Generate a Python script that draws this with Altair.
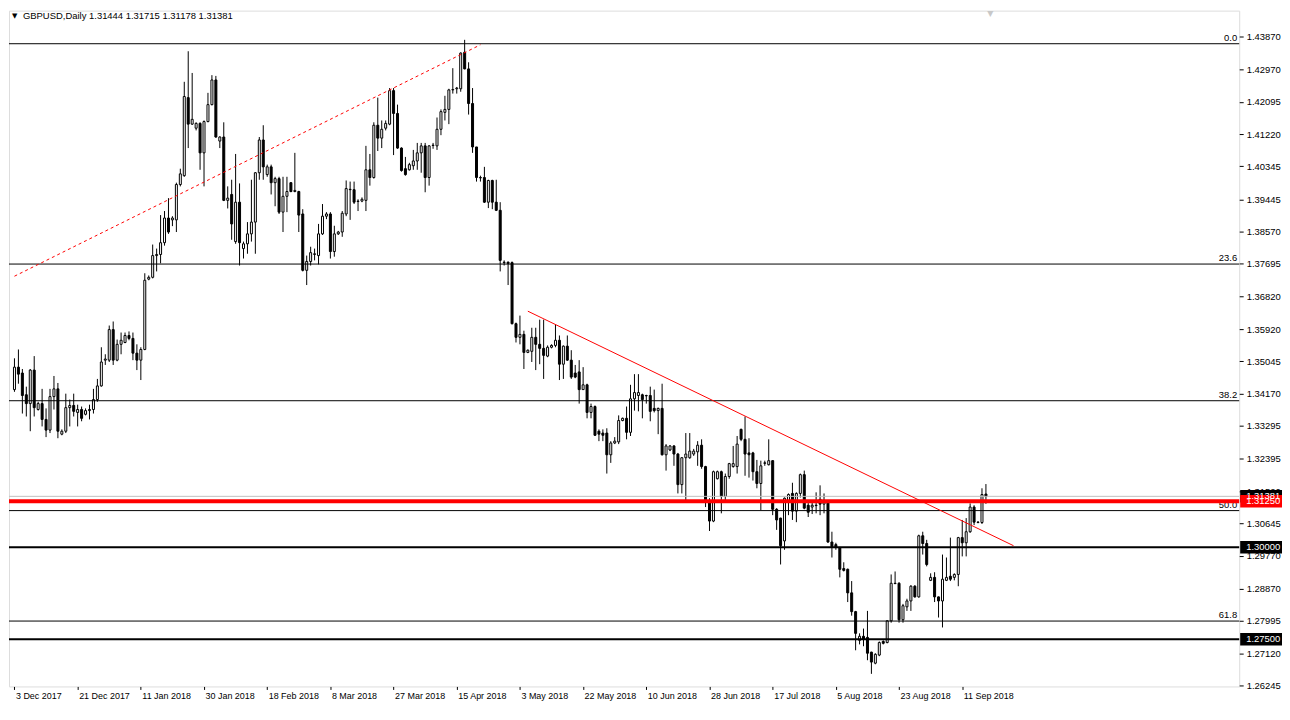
import json
import altair as alt
import pandas as pd

# ---------------- data ----------------
symbol_title = "GBPUSD,Daily"
last_ohlc_text = "1.31444 1.31715 1.31178 1.31381"

date_labels = ["3 Dec 2017", "21 Dec 2017", "11 Jan 2018", "30 Jan 2018", "18 Feb 2018",
               "8 Mar 2018", "27 Mar 2018", "15 Apr 2018", "3 May 2018", "22 May 2018",
               "10 Jun 2018", "28 Jun 2018", "17 Jul 2018", "5 Aug 2018", "23 Aug 2018",
               "11 Sep 2018"]
label_bars = [0, 16, 32, 48, 64, 80, 96, 112, 128, 144, 160, 176, 192, 208, 224, 240]

price_ticks = [1.43870, 1.42970, 1.42095, 1.41220, 1.40345, 1.39445, 1.38570, 1.37695,
               1.36820, 1.35920, 1.35045, 1.34170, 1.33295, 1.32395, 1.31520, 1.30645,
               1.29770, 1.28870, 1.27995, 1.27120, 1.26245]

opens = [
    1.3428, 1.3489, 1.3473, 1.3414, 1.3390, 1.3481, 1.3374, 1.3390, 1.3347, 1.3318,
    1.3409, 1.3430, 1.3307, 1.3315, 1.3379, 1.3385, 1.3366, 1.3374, 1.3361, 1.3371,
    1.3374, 1.3401, 1.3438, 1.3508, 1.3508, 1.3591, 1.3508, 1.3551, 1.3556, 1.3575,
    1.3567, 1.3527, 1.3508, 1.3537, 1.3728, 1.3733, 1.3792, 1.3795, 1.3827, 1.3894,
    1.3889, 1.3889, 1.3985, 1.4009, 1.4221, 1.4149, 1.4138, 1.4151, 1.4071, 1.4156,
    1.4202, 1.4269, 1.4103, 1.4114, 1.3942, 1.3958, 1.3830, 1.3937, 1.3811, 1.3824,
    1.3851, 1.3883, 1.4017, 1.4106, 1.4012, 1.4033, 1.3990, 1.4001, 1.3910, 1.3953,
    1.3990, 1.3966, 1.3966, 1.3905, 1.3752, 1.3776, 1.3795, 1.3792, 1.3851, 1.3899,
    1.3905, 1.3803, 1.3851, 1.3856, 1.3905, 1.3972, 1.3971, 1.3940, 1.3940, 1.3942,
    1.4025, 1.4004, 1.4146, 1.4111, 1.4138, 1.4149, 1.4240, 1.4178, 1.4084, 1.4028,
    1.4025, 1.4036, 1.4049, 1.4071, 1.4090, 1.4004, 1.4092, 1.4090, 1.4135, 1.4181,
    1.4189, 1.4242, 1.4245, 1.4245, 1.4344, 1.4299, 1.4205, 1.4087, 1.4004, 1.4004,
    1.3937, 1.3996, 1.3937, 1.3915, 1.3773, 1.3774, 1.3773, 1.3607, 1.3570, 1.3578,
    1.3529, 1.3532, 1.3570, 1.3551, 1.3540, 1.3519, 1.3543, 1.3548, 1.3562, 1.3497,
    1.3546, 1.3508, 1.3473, 1.3476, 1.3428, 1.3441, 1.3366, 1.3382, 1.3315, 1.3310,
    1.3310, 1.3251, 1.3283, 1.3286, 1.3344, 1.3350, 1.3312, 1.3403, 1.3412, 1.3414,
    1.3412, 1.3412, 1.3377, 1.3371, 1.3377, 1.3251, 1.3264, 1.3275, 1.3253, 1.3170,
    1.3243, 1.3243, 1.3253, 1.3259, 1.3277, 1.3219, 1.3122, 1.3071, 1.3186, 1.3205,
    1.3138, 1.3192, 1.3219, 1.3219, 1.3320, 1.3293, 1.3256, 1.3256, 1.3205, 1.3173,
    1.3229, 1.3224, 1.3235, 1.3103, 1.3079, 1.3017, 1.3127, 1.3146, 1.3098, 1.3146,
    1.3197, 1.3114, 1.3109, 1.3114, 1.3130, 1.3117, 1.3125, 1.3014, 1.3007, 1.2999,
    1.2942, 1.2940, 1.2876, 1.2825, 1.2747, 1.2758, 1.2755, 1.2715, 1.2685, 1.2707,
    1.2744, 1.2741, 1.2800, 1.2902, 1.2902, 1.2803, 1.2838, 1.2854, 1.2894, 1.2865,
    1.3031, 1.3010, 1.2910, 1.2918, 1.2865, 1.2854, 1.2910, 1.2921, 1.2918, 1.2926,
    1.3026, 1.3012, 1.3042, 1.3109, 1.3068, 1.3067, 1.31444,
]
highs = [
    1.3513, 1.3537, 1.3484, 1.3436, 1.3484, 1.3519, 1.3395, 1.3430, 1.3377, 1.3430,
    1.3465, 1.3446, 1.3320, 1.3417, 1.3401, 1.3417, 1.3387, 1.3382, 1.3377, 1.3387,
    1.3430, 1.3457, 1.3543, 1.3524, 1.3602, 1.3613, 1.3564, 1.3583, 1.3583, 1.3586,
    1.3583, 1.3551, 1.3543, 1.3744, 1.3738, 1.3822, 1.3811, 1.3902, 1.3913, 1.3948,
    1.3899, 1.3990, 1.4028, 1.4264, 1.4347, 1.4288, 1.4154, 1.4154, 1.4159, 1.4234,
    1.4282, 1.4280, 1.4116, 1.4154, 1.3980, 1.3998, 1.4068, 1.3988, 1.3830, 1.3883,
    1.3998, 1.4019, 1.4114, 1.4146, 1.4039, 1.4039, 1.4006, 1.4006, 1.4006, 1.4006,
    1.3991, 1.4071, 1.3968, 1.3918, 1.3792, 1.3816, 1.3811, 1.3878, 1.3932, 1.3910,
    1.3910, 1.3873, 1.3859, 1.3913, 1.3996, 1.3993, 1.3993, 1.3945, 1.3950, 1.4090,
    1.4068, 1.4154, 1.4221, 1.4159, 1.4159, 1.4247, 1.4247, 1.4202, 1.4086, 1.4060,
    1.4044, 1.4079, 1.4098, 1.4098, 1.4098, 1.4092, 1.4098, 1.4167, 1.4189, 1.4226,
    1.4245, 1.4301, 1.4250, 1.4344, 1.4378, 1.4317, 1.4247, 1.4087, 1.4009, 1.4033,
    1.3998, 1.3998, 1.3998, 1.3937, 1.3779, 1.3776, 1.3776, 1.3610, 1.3629, 1.3588,
    1.3537, 1.3596, 1.3596, 1.3618, 1.3618, 1.3548, 1.3551, 1.3605, 1.3575, 1.3548,
    1.3575, 1.3535, 1.3495, 1.3508, 1.3489, 1.3444, 1.3390, 1.3385, 1.3320, 1.3320,
    1.3323, 1.3288, 1.3299, 1.3358, 1.3352, 1.3382, 1.3441, 1.3470, 1.3470, 1.3417,
    1.3414, 1.3436, 1.3428, 1.3379, 1.3444, 1.3280, 1.3277, 1.3277, 1.3256, 1.3245,
    1.3310, 1.3310, 1.3267, 1.3288, 1.3293, 1.3221, 1.3133, 1.3208, 1.3208, 1.3208,
    1.3200, 1.3229, 1.3275, 1.3302, 1.3322, 1.3355, 1.3296, 1.3259, 1.3237, 1.3235,
    1.3235, 1.3293, 1.3236, 1.3106, 1.3080, 1.3135, 1.3146, 1.3175, 1.3149, 1.3200,
    1.3208, 1.3127, 1.3127, 1.3149, 1.3168, 1.3146, 1.3127, 1.3042, 1.3012, 1.3001,
    1.2959, 1.2942, 1.2908, 1.2827, 1.2766, 1.2779, 1.2827, 1.2716, 1.2712, 1.2744,
    1.2747, 1.2802, 1.2926, 1.2934, 1.2905, 1.2846, 1.2860, 1.2897, 1.2897, 1.3034,
    1.3042, 1.3020, 1.2929, 1.2932, 1.2866, 1.2980, 1.2972, 1.3026, 1.2929, 1.3028,
    1.3074, 1.3079, 1.3119, 1.3114, 1.3071, 1.3160, 1.31715,
]
lows = [
    1.3422, 1.3444, 1.3363, 1.3355, 1.3315, 1.3355, 1.3371, 1.3328, 1.3299, 1.3310,
    1.3374, 1.3296, 1.3304, 1.3310, 1.3328, 1.3355, 1.3328, 1.3342, 1.3358, 1.3347,
    1.3363, 1.3395, 1.3436, 1.3495, 1.3503, 1.3495, 1.3505, 1.3524, 1.3554, 1.3562,
    1.3508, 1.3481, 1.3454, 1.3535, 1.3725, 1.3730, 1.3749, 1.3771, 1.3819, 1.3851,
    1.3872, 1.3856, 1.3980, 1.4006, 1.4084, 1.4147, 1.4132, 1.4025, 1.3980, 1.4154,
    1.4200, 1.4112, 1.4084, 1.3940, 1.3920, 1.3835, 1.3824, 1.3765, 1.3784, 1.3797,
    1.3830, 1.3797, 1.3998, 1.3998, 1.4006, 1.3958, 1.3926, 1.3905, 1.3856, 1.3910,
    1.3964, 1.3964, 1.3856, 1.3749, 1.3712, 1.3765, 1.3779, 1.3768, 1.3848, 1.3891,
    1.3784, 1.3789, 1.3848, 1.3843, 1.3899, 1.3889, 1.3932, 1.3913, 1.3937, 1.3913,
    1.3982, 1.4001, 1.4076, 1.4084, 1.4132, 1.4146, 1.4065, 1.4082, 1.4020, 1.4009,
    1.4023, 1.4025, 1.4025, 1.4017, 1.3964, 1.3982, 1.4082, 1.4079, 1.4119, 1.4159,
    1.4149, 1.4232, 1.4232, 1.4237, 1.4298, 1.4175, 1.4071, 1.3993, 1.3993, 1.3935,
    1.3921, 1.3918, 1.3913, 1.3749, 1.3765, 1.3712, 1.3605, 1.3556, 1.3551, 1.3484,
    1.3527, 1.3503, 1.3481, 1.3497, 1.3457, 1.3516, 1.3540, 1.3543, 1.3454, 1.3457,
    1.3506, 1.3457, 1.3459, 1.3390, 1.3427, 1.3350, 1.3350, 1.3302, 1.3288, 1.3288,
    1.3200, 1.3229, 1.3280, 1.3280, 1.3342, 1.3293, 1.3302, 1.3371, 1.3369, 1.3350,
    1.3390, 1.3342, 1.3366, 1.3307, 1.3249, 1.3208, 1.3261, 1.3221, 1.3146, 1.3146,
    1.3125, 1.3240, 1.3248, 1.3221, 1.3213, 1.3109, 1.3044, 1.3068, 1.3184, 1.3092,
    1.3122, 1.3186, 1.3216, 1.3200, 1.3288, 1.3194, 1.3189, 1.3181, 1.3160, 1.3101,
    1.3221, 1.3222, 1.3087, 1.3047, 1.2953, 1.2993, 1.3087, 1.3074, 1.3068, 1.3135,
    1.3103, 1.3082, 1.3090, 1.3092, 1.3087, 1.3092, 1.3012, 1.2972, 1.2993, 1.2918,
    1.2934, 1.2851, 1.2814, 1.2720, 1.2736, 1.2731, 1.2693, 1.2656, 1.2682, 1.2704,
    1.2736, 1.2739, 1.2795, 1.2900, 1.2795, 1.2795, 1.2827, 1.2827, 1.2863, 1.2863,
    1.2980, 1.2948, 1.2908, 1.2851, 1.2809, 1.2782, 1.2908, 1.2908, 1.2910, 1.2894,
    1.2975, 1.2975, 1.3039, 1.3060, 1.3065, 1.3063, 1.31178,
]
closes = [
    1.3489, 1.3470, 1.3412, 1.3390, 1.3481, 1.3379, 1.3390, 1.3347, 1.3318, 1.3409,
    1.3430, 1.3315, 1.3315, 1.3379, 1.3385, 1.3369, 1.3374, 1.3350, 1.3371, 1.3374,
    1.3401, 1.3438, 1.3503, 1.3511, 1.3591, 1.3508, 1.3551, 1.3562, 1.3575, 1.3567,
    1.3527, 1.3508, 1.3537, 1.3725, 1.3733, 1.3792, 1.3795, 1.3827, 1.3894, 1.3856,
    1.3894, 1.3985, 1.4014, 1.4224, 1.4149, 1.4162, 1.4151, 1.4071, 1.4156, 1.4202,
    1.4269, 1.4114, 1.4114, 1.3942, 1.3948, 1.3878, 1.3937, 1.3827, 1.3824, 1.3851,
    1.3883, 1.4017, 1.4106, 1.4033, 1.4033, 1.3990, 1.4001, 1.3910, 1.3953, 1.3966,
    1.3966, 1.3969, 1.3902, 1.3752, 1.3776, 1.3800, 1.3797, 1.3851, 1.3899, 1.3905,
    1.3803, 1.3851, 1.3856, 1.3907, 1.3974, 1.3971, 1.3937, 1.3939, 1.3945, 1.4025,
    1.4004, 1.4146, 1.4111, 1.4135, 1.4151, 1.4240, 1.4178, 1.4084, 1.4023, 1.4012,
    1.4039, 1.4049, 1.4071, 1.4090, 1.4004, 1.4090, 1.4091, 1.4135, 1.4183, 1.4189,
    1.4242, 1.4243, 1.4247, 1.4342, 1.4299, 1.4205, 1.4087, 1.4004, 1.4003, 1.3937,
    1.3996, 1.3937, 1.3915, 1.3779, 1.3774, 1.3771, 1.3607, 1.3570, 1.3578, 1.3529,
    1.3535, 1.3570, 1.3551, 1.3540, 1.3521, 1.3543, 1.3548, 1.3562, 1.3497, 1.3546,
    1.3508, 1.3462, 1.3462, 1.3428, 1.3441, 1.3366, 1.3382, 1.3304, 1.3307, 1.3304,
    1.3251, 1.3283, 1.3288, 1.3344, 1.3350, 1.3312, 1.3403, 1.3420, 1.3420, 1.3401,
    1.3411, 1.3369, 1.3371, 1.3377, 1.3251, 1.3275, 1.3275, 1.3253, 1.3170, 1.3243,
    1.3253, 1.3261, 1.3261, 1.3277, 1.3219, 1.3122, 1.3071, 1.3205, 1.3205, 1.3138,
    1.3192, 1.3227, 1.3227, 1.3280, 1.3293, 1.3253, 1.3251, 1.3205, 1.3173, 1.3221,
    1.3228, 1.3235, 1.3103, 1.3074, 1.3004, 1.3133, 1.3143, 1.3098, 1.3146, 1.3197,
    1.3106, 1.3095, 1.3114, 1.3113, 1.3117, 1.3127, 1.3014, 1.3001, 1.2999, 1.2940,
    1.2937, 1.2876, 1.2825, 1.2766, 1.2758, 1.2750, 1.2712, 1.2688, 1.2709, 1.2741,
    1.2739, 1.2800, 1.2902, 1.2901, 1.2803, 1.2841, 1.2854, 1.2894, 1.2865, 1.3031,
    1.3010, 1.2953, 1.2918, 1.2865, 1.2854, 1.2913, 1.2918, 1.2913, 1.2926, 1.3026,
    1.3012, 1.3042, 1.3109, 1.3068, 1.3067, 1.3143, 1.31381,
]

fib_labels = ["0.0", "23.6", "38.2", "50.0", "61.8"]
fib_prices = [1.43674, 1.37690, 1.33978, 1.30994, 1.27994]

thick_levels = [1.30000, 1.27500]
red_level = [1.31250]
bid_level = [1.31381]

dotted_bars = [0, 118]
dotted_prices = [1.3736, 1.43645]
trend_bars = [130, 253]
trend_prices = [1.3641, 1.3004]

# ---------------- chart ----------------
W, H = 1236, 679
PAD_L, PAD_T, PAD_R, PAD_B = 1, 1, 43, 16
FONT = "Liberation Sans"
x_scale = alt.Scale(domain=[-0.125, 308.875], nice=False, zero=False)
y_scale = alt.Scale(domain=[1.26218, 1.44573], nice=False, zero=False)

label_expr = f"{json.dumps(date_labels)}[indexof({json.dumps(label_bars)}, datum.value)]"
x_axis = alt.Axis(values=label_bars, labelExpr=label_expr, title=None, grid=False,
                  domain=False, tickSize=3, tickColor="black", labelAlign="left",
                  labelBaseline="top", labelPadding=2, labelOffset=1, labelFont=FONT,
                  labelFontSize=9, labelColor="black", labelOverlap=False,
                  labelFlush=False)
y_axis = alt.Axis(orient="right", values=price_ticks, format=".5f", title=None,
                  grid=False, domain=False, tickSize=4, tickColor="black",
                  labelPadding=3, labelFont=FONT, labelFontSize=9.5, labelColor="black",
                  labelOverlap=False, labelFlush=False, labelBaseline="middle")


def X(field):
    return alt.X(field, type="quantitative", scale=x_scale, axis=x_axis)


def Y(field):
    return alt.Y(field, type="quantitative", scale=y_scale, axis=y_axis)


n = len(opens)
df = pd.DataFrame({"i": list(range(n)), "o": opens, "h": highs, "l": lows, "c": closes})
base = alt.Chart(df)

wicks = base.mark_rule(color="black", strokeWidth=1).encode(x=X("i"), y=Y("l"), y2="h:Q")
bodies = base.mark_bar(size=2, stroke="black", strokeWidth=1).encode(
    x=X("i"), y=Y("o"), y2="c:Q",
    fill=alt.condition("datum.c >= datum.o", alt.value("white"), alt.value("black")))

fib_df = pd.DataFrame({"p": fib_prices, "lab": fib_labels})
fib_rules = alt.Chart(fib_df).mark_rule(color="black", strokeWidth=1).encode(y=Y("p"))
fib_text = alt.Chart(fib_df).mark_text(align="right", baseline="bottom", dy=-1,
                                       font=FONT, fontSize=9.5, color="#000000").encode(
    x=alt.value(W - 2), y=Y("p"), text="lab:N")

thick_rules = alt.Chart(pd.DataFrame({"p": thick_levels})).mark_rule(
    color="black", strokeWidth=2).encode(y=Y("p"))
bid_rule = alt.Chart(pd.DataFrame({"p": bid_level})).mark_rule(
    color="#c0c0c0", strokeWidth=1).encode(y=Y("p"))
red_rule = alt.Chart(pd.DataFrame({"p": red_level})).mark_rule(
    color="#ff0000", strokeWidth=4).encode(y=Y("p"))

dotted = alt.Chart(pd.DataFrame({"i": dotted_bars, "p": dotted_prices})).mark_line(
    color="#ff0000", strokeWidth=1, strokeDash=[3, 3]).encode(x=X("i"), y=Y("p"))
trend = alt.Chart(pd.DataFrame({"i": trend_bars, "p": trend_prices})).mark_line(
    color="#ff0000", strokeWidth=1).encode(x=X("i"), y=Y("p"))

box_df = pd.DataFrame({"p": bid_level + thick_levels + red_level})
half = 6.3 / 3699.3
boxes = alt.Chart(box_df).transform_calculate(
    top=f"datum.p + {half}", bot=f"datum.p - {half}").mark_rect().encode(
    x=alt.value(W + 1), x2=alt.value(W + PAD_R), y=Y("top"), y2="bot:Q",
    fill=alt.condition(f"datum.p == {red_level[0]}", alt.value("#ff0000"), alt.value("black")))
box_text = alt.Chart(box_df).mark_text(align="left", baseline="middle", font=FONT,
                                       fontSize=9.5, color="white").encode(
    x=alt.value(W + 7), y=Y("p"), text=alt.Text("p:Q", format=".5f"))

hdr = pd.DataFrame({"t": [symbol_title + "  " + last_ohlc_text]})
header_tri = alt.Chart(hdr).mark_text(text="\u25bc", font="DejaVu Sans", fontSize=7,
                                      align="left", baseline="middle", color="black").encode(
    x=alt.value(3), y=alt.value(5))
header = alt.Chart(hdr).mark_text(align="left", baseline="middle", font=FONT, fontSize=9.5,
                                  color="black").encode(
    x=alt.value(14), y=alt.value(5), text="t:N")
shift_mark = alt.Chart(hdr).mark_text(text="\u25bc", font="DejaVu Sans", fontSize=8,
                                      align="center", baseline="top", color="#c8c8c8").encode(
    x=alt.value(986), y=alt.value(-1))

chart = alt.layer(
    wicks, bodies, fib_rules, fib_text, bid_rule, thick_rules, red_rule, dotted, trend,
    boxes, box_text, header_tri, header, shift_mark
).properties(
    width=W, height=H,
    autosize=alt.AutoSizeParams(type="none"),
    padding={"left": PAD_L, "top": PAD_T, "right": PAD_R, "bottom": PAD_B},
).configure_view(stroke="black", strokeWidth=1).configure(background="white")

chart.save("out.html", embed_options={"renderer": "svg", "actions": False})
